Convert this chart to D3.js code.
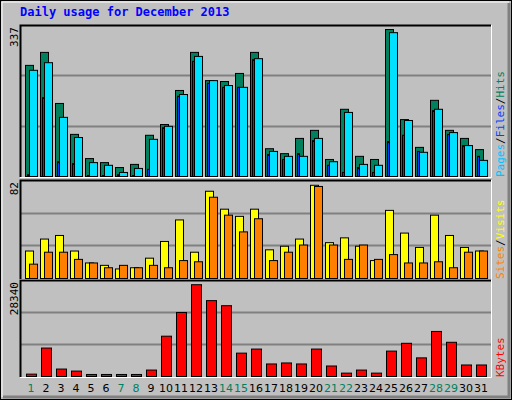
<!DOCTYPE html><html><head><script src="https://cdn.jsdelivr.net/npm/d3@7"></script>
<style>body{margin:0;background:#fff}</style></head><body><svg id="c" width="512" height="400"></svg>
<script>
const days = d3.range(1,32);
const weekend = [1,7,8,14,15,21,22,28,29];
const hits  = [248,277,163,94,40,31,20,27,92,116,192,277,214,212,230,277,62,51,85,103,38,150,45,38,328,127,65,170,103,85,60];
const files = [237,254,132,87,31,25,9,18,83,112,183,268,214,203,199,263,56,45,45,85,33,143,27,25,321,125,54,150,98,69,36];
const pages = [4,176,33,29,2,2,4,0,16,109,179,257,208,199,199,261,49,38,51,80,25,9,20,9,78,92,56,147,94,69,45];
const visits= [23,33,36,23,13,11,8,9,17,31,49,22,73,58,52,58,24,27,33,78,30,34,27,15,57,38,26,53,36,26,23];
const sites = [12,22,22,16,13,9,11,9,11,9,15,14,68,53,39,50,15,22,28,77,28,16,28,16,20,13,13,14,9,22,23];
const kbytes= [700,8400,2200,1600,600,600,600,600,1900,11900,18900,27100,22400,20900,6900,8100,3700,4000,3700,8100,3100,1000,1900,1000,7500,9800,5500,13300,10100,3400,3400];
const maxHits=337, maxVisits=82, maxKB=28340;

const svg=d3.select("#c");
// outer frame
svg.append("rect").attr("x",0.5).attr("y",0.5).attr("width",511).attr("height",399).attr("fill","#c0c0c0").attr("stroke","#000");
svg.append("path").attr("d","M2,397V2H509").attr("fill","none").attr("stroke","#fff");
svg.append("path").attr("d","M3,397H509V3").attr("fill","none").attr("stroke","#808080").attr("stroke-width",3);
svg.append("text").attr("x",20).attr("y",16).attr("font-family","DejaVu Sans Mono").attr("font-weight","bold").attr("font-size",12).attr("fill","#0000ff").text("Daily usage for December 2013");

const x=d3.scaleLinear().domain([1,31]).range([25,475]);
const L=20,R=491;
function panel(top,bottom,max,label,rlabels){
  svg.append("rect").attr("x",L).attr("y",top).attr("width",R-L).attr("height",bottom-top).attr("fill","#c0c0c0");
  const y=d3.scaleLinear().domain([0,max]).range([bottom-1,top]);
  [max/3,2*max/3].forEach(v=>svg.append("line").attr("x1",L).attr("x2",R).attr("y1",Math.round(y(v))+0.5).attr("y2",Math.round(y(v))+0.5).attr("stroke","#808080").attr("stroke-width",2));
  svg.append("path").attr("d",`M${L+0.5},${bottom}V${top+0.5}H${R}`).attr("fill","none").attr("stroke","#000").attr("stroke-width",2);
  svg.append("path").attr("d",`M${R+0.5},${top}V${bottom+0.5}H${L}`).attr("fill","none").attr("stroke","#fff");
  svg.append("text").attr("transform",`translate(18,${top+2}) rotate(-90)`).attr("text-anchor","end").attr("font-family","DejaVu Sans Mono").attr("font-size",11).text(label);
  const t=svg.append("text").attr("transform",`translate(504,${bottom}) rotate(-90)`).attr("font-family","DejaVu Sans Mono").attr("font-size",11);
  rlabels.forEach((r,i)=>{ if(i) t.append("tspan").attr("fill","#000").text("/"); t.append("tspan").attr("fill",r[1]).text(r[0]); });
  return y;
}
function bars(data,y,off,w,color,base){
  svg.append("g").selectAll("rect").data(data).join("rect")
   .attr("x",(d,i)=>x(days[i])+off+0.5).attr("width",w)
   .attr("y",d=>Math.min(y(d),base-1)+0.5).attr("height",d=>Math.max(1,base-y(d)))
   .attr("fill",color).attr("stroke","#000");
}
const y1=panel(25,177,maxHits,"337",[["Pages","#00c0ff"],["Files","#0040ff"],["Hits","#00805c"]]);
bars(hits,y1,0,8,"#00805c",176);
bars(pages,y1,2,2,"#0040ff",176);
bars(files,y1,4,8,"#00e0ff",176);
const y2=panel(180,279,maxVisits,"82",[["Sites","#ff8000"],["Visits","#ffff00"]]);
bars(visits,y2,0,8,"#ffff00",278);
bars(sites,y2,4,8,"#ff8000",278);
const y3=panel(280,377,maxKB,"28340",[["KBytes","#ff0000"]]);
bars(kbytes,y3,1,10,"#ff0000",376);
svg.append("g").selectAll("text").data(days).join("text").attr("x",d=>x(d)+6).attr("y",392)
 .attr("text-anchor","middle").attr("font-family","DejaVu Sans").attr("font-size",11)
 .attr("fill",d=>weekend.includes(d)?"#00805c":"#000").text(d=>d);
</script></body></html>
